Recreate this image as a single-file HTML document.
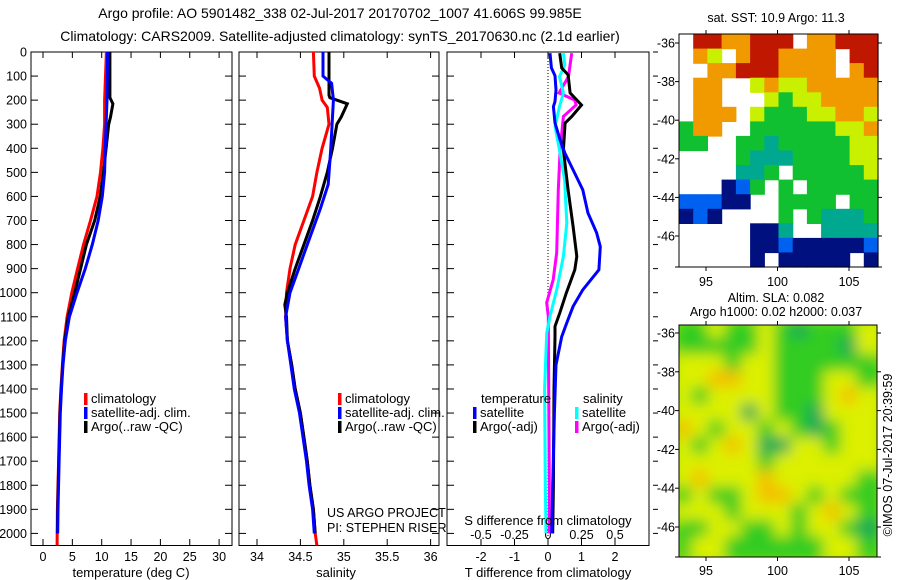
<!DOCTYPE html>
<html><head><meta charset="utf-8">
<style>
html,body{margin:0;padding:0;background:#fff;}
svg{display:block;font-family:"Liberation Sans",sans-serif;}
text{fill:#000;}
</style></head>
<body>
<svg id="fig" width="900" height="580" viewBox="0 0 900 580" xmlns="http://www.w3.org/2000/svg">
<defs>
<clipPath id="clipP1"><rect x="31" y="52" width="201" height="494"/></clipPath>
<clipPath id="clipP2"><rect x="239" y="52" width="200" height="494"/></clipPath>
<clipPath id="clipP3"><rect x="447" y="52" width="202" height="494"/></clipPath>
<clipPath id="clipM2"><rect x="679" y="325" width="198" height="232"/></clipPath>
<filter id="blur" x="-10%" y="-10%" width="120%" height="120%"><feGaussianBlur stdDeviation="7"/></filter>
</defs>
<text x="340" y="18" font-size="14" text-anchor="middle">Argo profile: AO 5901482_338 02-Jul-2017 20170702_1007 41.606S 99.985E</text>
<text x="340" y="41" font-size="14" text-anchor="middle">Climatology: CARS2009. Satellite-adjusted climatology: synTS_20170630.nc (2.1d earlier)</text>
<g id="p1"></g>
<g id="p2"></g>
<g id="p3"></g>
<g id="m1"></g>
<g id="m2"></g>
<text x="776" y="22" font-size="12.5" text-anchor="middle">sat. SST: 10.9 Argo: 11.3</text>
<text x="776" y="302" font-size="12.5" text-anchor="middle">Altim. SLA: 0.082</text>
<text x="776" y="316" font-size="12.5" text-anchor="middle">Argo h1000: 0.02 h2000: 0.037</text>
<text x="0" y="0" font-size="12.5" text-anchor="middle" transform="translate(892,455) rotate(-90)">©IMOS 07-Jul-2017 20:39:59</text>
<text x="327" y="517" font-size="12.5">US ARGO PROJECT</text>
<text x="327" y="532" font-size="12.5">PI: STEPHEN RISER</text>
</svg>
<script>
// ---- data ----
const depthTicks = [0,100,200,300,400,500,600,700,800,900,1000,1100,1200,1300,1400,1500,1600,1700,1800,1900,2000];
const tempTicks = [0,5,10,15,20,25,30];
const salTicks = [34,34.5,35,35.5,36];
const tdiffTicks = [-2,-1,0,1,2];
const sdiffTicks = [-0.5,-0.25,0,0.25,0.5];
const sdiffTickLabels = ["-0.5","-0.25","0","0.25","0.5"];

const tClimDepth = [0,200,300,400,500,600,700,800,900,1000,1100,1200,1300,1400,1500,1700,1900,2050];
const tClim      = [10.8,10.5,10.5,10.2,9.8,9.2,8.1,6.9,5.9,4.9,4.1,3.6,3.3,3.05,2.85,2.65,2.45,2.4];
const tSatDepth = [0,200,300,400,500,600,700,800,900,1000,1100,1200,1300,1400,1500,1700,1900,2000];
const tSat      = [11.0,10.9,10.75,10.6,10.5,10.1,9.4,8.4,7.2,5.8,4.5,3.8,3.4,3.15,2.95,2.75,2.55,2.5];
const tArgoDepth = [0,190,215,270,300,400,500,600,700,800,900,1000,1100,1200,1300,1400,1500,1700,1900,2000];
const tArgo      = [11.4,11.4,11.9,11.5,11.2,10.75,10.3,9.75,8.8,7.4,6.4,5.4,4.3,3.7,3.35,3.1,2.9,2.7,2.5,2.45];

const sClimDepth = [0,100,150,200,230,300,400,500,600,700,800,900,1000,1100,1200,1300,1400,1500,1600,1700,1800,1900,2000,2050];
const sClim      = [34.65,34.66,34.72,34.75,34.81,34.83,34.75,34.69,34.64,34.54,34.44,34.38,34.34,34.33,34.35,34.40,34.44,34.50,34.54,34.58,34.61,34.65,34.67,34.69];
const sSatDepth = [0,100,130,200,400,550,650,800,900,1000,1100,1200,1300,1400,1500,1600,1700,1800,1900,2000];
const sSat      = [34.76,34.76,34.86,34.88,34.85,34.82,34.73,34.58,34.48,34.38,34.33,34.35,34.39,34.43,34.49,34.53,34.57,34.60,34.64,34.66];
const sArgoDepth = [0,180,190,215,270,300,400,500,600,700,800,900,1000,1050,1100,1200,1300,1400,1500,1600,1700,1800,1900,2000];
const sArgo      = [34.83,34.83,34.84,35.04,34.97,34.92,34.87,34.81,34.73,34.64,34.54,34.44,34.35,34.32,34.34,34.35,34.40,34.44,34.50,34.54,34.58,34.61,34.65,34.67];

const dtSatDepth = [5,66,99,158,206,227,295,365,419,490,573,668,751,809,905,988,1057,1125,1183,1300,1500,1800,2000];
const dtSat      = [0.06,0.1,0.21,0.24,0.21,0.16,0.21,0.36,0.5,0.75,1.04,1.19,1.45,1.56,1.52,1.04,0.75,0.56,0.41,0.24,0.19,0.14,0.11];
const dtArgoDepth = [5,66,95,170,220,268,295,407,573,725,849,905,1000,1085,1140,1183,1400,1800,2000];
const dtArgo      = [0.35,0.41,0.6,0.66,1.0,0.71,0.51,0.46,0.6,0.75,0.86,0.8,0.55,0.35,0.21,0.21,0.18,0.16,0.14];
const dsSatDepth = [5,54,102,170,227,310,407,531,710,849,988,1098,1167,1400,1800,2000];
const dsSat      = [0.115,0.125,0.086,0.115,0.086,0.053,0.086,0.124,0.14,0.115,0.065,0.015,-0.01,-0.025,-0.02,-0.015];
const dsArgoDepth = [5,102,170,200,220,268,407,573,834,946,1041,1098,1400,1800,2000];
const dsArgo      = [0.177,0.153,0.082,0.2,0.21,0.115,0.09,0.077,0.065,0.039,-0.01,0.002,0.005,0.01,0.01];

// ---- scales ----
const Y0=52, PXD=0.2407;
const yD = d => Y0 + d*PXD;
const xT = t => 43 + t*5.87;
const xS = s => 257 + (s-34)*86.8;
const xDT = v => 548 + v*33.5;
const xDS = v => 548 + v*134;

const NS='http://www.w3.org/2000/svg';
function mk(tag, attrs, parent){
  const e=document.createElementNS(NS,tag);
  for(const k in attrs) e.setAttribute(k,attrs[k]);
  parent.appendChild(e); return e;
}
function line(depths, vals, xf, color, parent, clip){
  const d = depths.map((dd,i)=>(i?'L':'M')+xf(vals[i]).toFixed(1)+','+yD(dd).toFixed(1)).join('');
  return mk('path',{d:d,fill:'none',stroke:color,'stroke-width':3,'stroke-linejoin':'miter','clip-path':'url(#'+clip+')'},parent);
}
function frame(g, x0, x1, top, yLabels, rightOut){
  const r=mk('rect',{x:x0,y:Y0,width:x1-x0,height:545.5-Y0,fill:'none',stroke:'#000','stroke-width':1},g);
  
  
  depthTicks.forEach(d=>{
    const y=yD(d);
    mk('line',{x1:x0,y1:y,x2:x0+7,y2:y,stroke:'#000'},g);
    if(rightOut) mk('line',{x1:x1+4,y1:y,x2:x1+9,y2:y,stroke:'#000'},g);
    else mk('line',{x1:x1,y1:y,x2:x1-7,y2:y,stroke:'#000'},g);
    if(yLabels){
      const t=mk('text',{x:27,y:y+4.5,'font-size':12.5,'text-anchor':'end'},g);
      t.textContent=d;
      
      
    }
  });
}
function xticks(g, ticks, labels, xf, yb){
  ticks.forEach((v,i)=>{
    const x=xf(v);
    mk('line',{x1:x,y1:545.5,x2:x,y2:539,stroke:'#000'},g);
    mk('line',{x1:x,y1:Y0,x2:x,y2:Y0+6,stroke:'#000'},g);
    const t=mk('text',{x:x,y:yb,'font-size':12.5,'text-anchor':'middle'},g);
    t.textContent=labels[i];
    
    
  });
}
function legend(g, x, items, yStart){
  items.forEach((it,i)=>{
    const y=yStart+i*14;
    const m=mk('rect',{x:x,y:y-10,width:3.5,height:12,fill:it[1]},g);
    
    
    const t=mk('text',{x:x+7,y:y,'font-size':13},g);
    t.textContent=it[0];
    
    
  });
}

// Panel 1
const p1=document.getElementById('p1');
frame(p1,31,232,true,true,false);
xticks(p1,tempTicks,tempTicks.map(String),xT,561);
line(tClimDepth,tClim,xT,'#ff0000',p1,'clipP1');
line(tArgoDepth,tArgo,xT,'#000000',p1,'clipP1');
line(tSatDepth,tSat,xT,'#0000ff',p1,'clipP1');
legend(p1,84,[['climatology','#ff0000'],['satellite-adj. clim.','#0000ff'],['Argo(..raw -QC)','#000000']],403);
let tt=mk('text',{x:131,y:577,'font-size':13,'text-anchor':'middle'},p1);tt.textContent='temperature (deg C)';



// Panel 2
const p2=document.getElementById('p2');
frame(p2,239,439,true,false,false);
xticks(p2,salTicks,salTicks.map(String),xS,561);
line(sClimDepth,sClim,xS,'#ff0000',p2,'clipP2');
line(sArgoDepth,sArgo,xS,'#000000',p2,'clipP2');
line(sSatDepth,sSat,xS,'#0000ff',p2,'clipP2');
legend(p2,338,[['climatology','#ff0000'],['satellite-adj. clim.','#0000ff'],['Argo(..raw -QC)','#000000']],403);
tt=mk('text',{x:336,y:577,'font-size':13,'text-anchor':'middle'},p2);tt.textContent='salinity';



// Panel 3
const p3=document.getElementById('p3');
frame(p3,447,649,true,false,true);
xticks(p3,tdiffTicks,tdiffTicks.map(String),xDT,561);
sdiffTicks.forEach((v,i)=>{
  const t=mk('text',{x:xDS(v),y:539,'font-size':12.5,'text-anchor':'middle'},p3);
  t.textContent=sdiffTickLabels[i];
  
  
});
mk('line',{x1:xDT(0),y1:Y0,x2:xDT(0),y2:545,stroke:'#000','stroke-dasharray':'1,2'},p3);
line(dsArgoDepth,dsArgo,xDS,'#ff00ff',p3,'clipP3');
line(dsSatDepth,dsSat,xDS,'#00ffff',p3,'clipP3');
line(dtArgoDepth,dtArgo,xDT,'#000000',p3,'clipP3');
line(dtSatDepth,dtSat,xDT,'#0000ff',p3,'clipP3');
tt=mk('text',{x:481,y:403,'font-size':13},p3);tt.textContent='temperature';


tt=mk('text',{x:583,y:403,'font-size':13},p3);tt.textContent='salinity';


legend(p3,473,[['satellite','#0000ff'],['Argo(-adj)','#000000']],417);
legend(p3,575,[['satellite','#00ffff'],['Argo(-adj)','#ff00ff']],417);
tt=mk('text',{x:548,y:525,'font-size':13,'text-anchor':'middle'},p3);tt.textContent='S difference from climatology';


tt=mk('text',{x:548,y:577,'font-size':13,'text-anchor':'middle'},p3);tt.textContent='T difference from climatology';



// ---- maps ----
const latTicks=[-36,-38,-40,-42,-44,-46];
const lonTicks=[95,100,105];
const sstGrid=[
"WRROORRRWOORRR",
"WOYWORROOOOWRR",
"WWOORRROOOOWOR",
"WOOWWYOYYOOOOO",
"WOOWWWYGYYOOOO",
"WOOOWYGGGYYOOY",
"GOOWWGGGGGGYYO",
"GGWWGGCGGGGGYY",
"WWWWGCCCGGGGYY",
"WWWWCCGWGGGGGY",
"WWWNBGWGWGGGGG",
"BBBNNWWGGGGWGG",
"NBNWWWWGWGCCCG",
"WWWWWNNCWWCCCC",
"WWWWWNNBNNNNNB",
"WWWWWNWNNNNNWN"];
const sstColors={W:'#ffffff',R:'#c01800',O:'#f09a00',Y:'#c8f000',G:'#10c030',C:'#00a890',B:'#0060f0',N:'#00107f'};
const slaGrid=[
"GGYGGYGDGGGY",
"GGGGGYGGGGDY",
"YYYGYYGGGGGG",
"YYOOYYGGGYYG",
"YGYYYYGGGYOY",
"YYYYDYGGDYYY",
"OYGYYGYGDGYY",
"YGYOYDDYYGYY",
"YYYYYGYYYYYY",
"YOYYYOYYYYYG",
"GYGGYOOYGYGG",
"YYYGYYYGYOYG",
"GGYYGGYGYYGD",
"GYYGGGGGGYYG"];
const slaColors={Y:'#dcf000',G:'#30cc20',D:'#10a858',O:'#f4c000'};

function mapAxes(g,x0,x1,y0,y1,latY,lonX,lonLabelY){
  latTicks.forEach(v=>{
    const y=latY(v);
    mk('line',{x1:x0,y1:y,x2:x0-4,y2:y,stroke:'#000'},g);
    mk('line',{x1:x1,y1:y,x2:x1+4,y2:y,stroke:'#000'},g);
    const t=mk('text',{x:675,y:y+4.5,'font-size':12.5,'text-anchor':'end'},g);
    t.textContent=v;
    
    
  });
  mk('line',{x1:x0,y1:y1,x2:x0-4,y2:y1,stroke:'#000'},g);
  mk('line',{x1:x1,y1:y1,x2:x1+4,y2:y1,stroke:'#000'},g);
  lonTicks.forEach(v=>{
    const x=lonX(v);
    mk('line',{x1:x,y1:y0,x2:x,y2:y0-4,stroke:'#000'},g);
    mk('line',{x1:x,y1:y1,x2:x,y2:y1+4,stroke:'#000'},g);
    const t=mk('text',{x:x,y:lonLabelY,'font-size':12.5,'text-anchor':'middle'},g);
    t.textContent=v;
    
    
  });
  mk('rect',{x:x0,y:y0,width:x1-x0,height:y1-y0,fill:'none',stroke:'#000'},g);
}
const m1=document.getElementById('m1');
(function(){
  const x0=679,x1=878,y0=34,y1=267,cw=(x1-x0)/14,ch=(y1-y0)/16;
  sstGrid.forEach((row,r)=>{[...row].forEach((c,k)=>{
    if(c==='W') return;
    const cell=mk('rect',{x:(x0+k*cw).toFixed(1),y:(y0+r*ch).toFixed(1),width:(cw+0.6).toFixed(1),height:(ch+0.6).toFixed(1),fill:sstColors[c]},m1);
    
    
  });});
  mapAxes(m1,x0,x1,y0,y1,v=>43+(-36-v)*19.3,v=>706+(v-95)*14.3,286);
})();
const m2=document.getElementById('m2');
(function(){
  const x0=679,x1=877,y0=325,y1=557,cw=(x1-x0)/12,ch=(y1-y0)/14;
  const bg=mk('rect',{x:x0,y:y0,width:x1-x0,height:y1-y0,fill:'#a8e800'},m2);
  
  
  const inner=mk('g',{'clip-path':'url(#clipM2)'},m2);
  const bl=mk('g',{filter:'url(#blur)'},inner);
  slaGrid.forEach((row,r)=>{[...row].forEach((c,k)=>{
    const cell=mk('rect',{x:(x0+k*cw-4).toFixed(1),y:(y0+r*ch-4).toFixed(1),width:(cw+8).toFixed(1),height:(ch+8).toFixed(1),fill:slaColors[c]},bl);
    
    
  });});
  mapAxes(m2,x0,x1,y0,y1,v=>333+(-36-v)*19.4,v=>706+(v-95)*14.3,575);
})();
</script>
</body></html>
